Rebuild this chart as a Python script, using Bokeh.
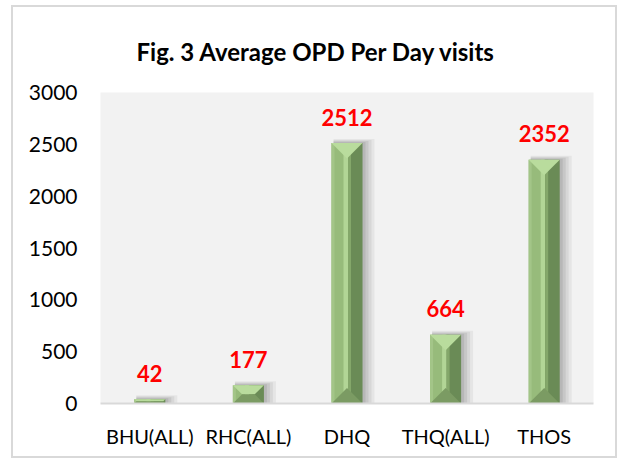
from bokeh.plotting import figure
from bokeh.models import ColumnDataSource, FixedTicker, Title
from bokeh.embed import file_html
from bokeh.resources import INLINE
from bokeh.core.properties import value

categories = ["BHU(ALL)", "RHC(ALL)", "DHQ", "THQ(ALL)", "THOS"]
visits = [42, 177, 2512, 664, 2352]
y_ticks = [0, 500, 1000, 1500, 2000, 2500, 3000]
title_text = "Fig. 3 Average OPD Per Day visits"

W, H = 606, 453
ML, MR, MT, MB = 87, 26, 85, 57
YMAX = 3000
FONT = "Lato"

p = figure(width=W, height=H, x_range=(0.5, len(categories) + 0.5), y_range=(0, YMAX),
           output_backend="svg", toolbar_location=None,
           min_border_left=ML, min_border_right=MR, min_border_top=MT, min_border_bottom=MB)
p.styles = {"border": "2px solid #d9d9d9", "margin-left": "11px", "margin-top": "5px"}

# pixel -> data conversions
frame_w = W - ML - MR
frame_h = H - MT - MB
px_x = len(categories) / frame_w
px_y = YMAX / frame_h

xs = [i + 1 for i in range(len(categories))]
bw = 0.315
hw = bw / 2
d = (hw / px_x) * px_y  # bevel depth in y units (45 degree)

# shadows
for k, a in [(12, 0.05), (9, 0.06), (6, 0.07), (3, 0.08)]:
    p.quad(left=[x - hw + 2 * px_x for x in xs], right=[x + hw + k * px_x for x in xs],
           bottom=[0] * len(xs), top=[v + (k / 3) * px_y for v in visits],
           fill_color="#000000", fill_alpha=a, line_color=None)

# main faces
p.quad(left=[x - hw for x in xs], right=xs, bottom=[0] * len(xs), top=visits,
       fill_color="#97bb7b", line_color=None)
p.quad(left=xs, right=[x + hw for x in xs], bottom=[0] * len(xs), top=visits,
       fill_color="#6a8b56", line_color=None)
p.quad(left=[x - hw for x in xs], right=[x - hw + 3 * px_x for x in xs], bottom=[0] * len(xs), top=visits,
       fill_color="#a3c588", line_color=None)
p.quad(left=[x - 3.5 * px_x for x in xs], right=[x + 1 * px_x for x in xs], bottom=[0] * len(xs), top=visits,
       fill_color="#b2d596", line_color=None)
p.quad(left=[x + 1 * px_x for x in xs], right=[x + 4 * px_x for x in xs], bottom=[0] * len(xs), top=visits,
       fill_color="#84a76a", line_color=None)

top_x, top_y, bot_x, bot_y = [], [], [], []
for x, v in zip(xs, visits):
    dd = min(d, v / 2)
    dx = hw * dd / d
    L, R = x - hw, x + hw
    top_x.append([L, R, R - dx, L + dx])
    top_y.append([v, v, v - dd, v - dd])
    bot_x.append([L, R, R - dx, L + dx])
    bot_y.append([0, 0, dd, dd])
p.patches(top_x, top_y, fill_color="#b9dc9d", line_color=None)
p.patches(bot_x, bot_y, fill_color="#7b9b63", line_color=None)

# value labels
src = ColumnDataSource(dict(x=xs, y=visits, t=[str(v) for v in visits]))
p.text("x", "y", text="t", source=src, y_offset=-26, text_align="center", text_baseline="alphabetic",
       text_font=value(FONT), text_font_style="bold", text_font_size="22px", text_color="#ff0000")

# title
p.title = Title(text=title_text, align="left", text_font=FONT, text_font_style="bold",
                text_font_size="24px", text_color="#000000", standoff=53, offset=36)

# styling
p.background_fill_color = "#f2f2f2"
p.border_fill_color = "#ffffff"
p.outline_line_color = None
p.xgrid.grid_line_color = None
p.ygrid.grid_line_color = None

p.xaxis.ticker = FixedTicker(ticks=xs)
p.xaxis.major_label_overrides = {x: c for x, c in zip(xs, categories)}
p.yaxis.ticker = FixedTicker(ticks=y_ticks)
for ax in (p.xaxis, p.yaxis):
    ax.major_tick_line_color = None
    ax.minor_tick_line_color = None
    ax.major_tick_out = 0
    ax.major_tick_in = 0
    ax.major_label_text_font = FONT
    ax.major_label_text_color = "#000000"
p.yaxis.major_label_text_font_size = "21px"
p.xaxis.major_label_text_font_size = "20px"
p.yaxis.axis_line_color = None
p.xaxis.axis_line_color = "#d9d9d9"
p.xaxis.axis_line_width = 2
p.yaxis.major_label_standoff = 23
p.xaxis.major_label_standoff = 20

open("out.html", "w").write(file_html(p, INLINE))
